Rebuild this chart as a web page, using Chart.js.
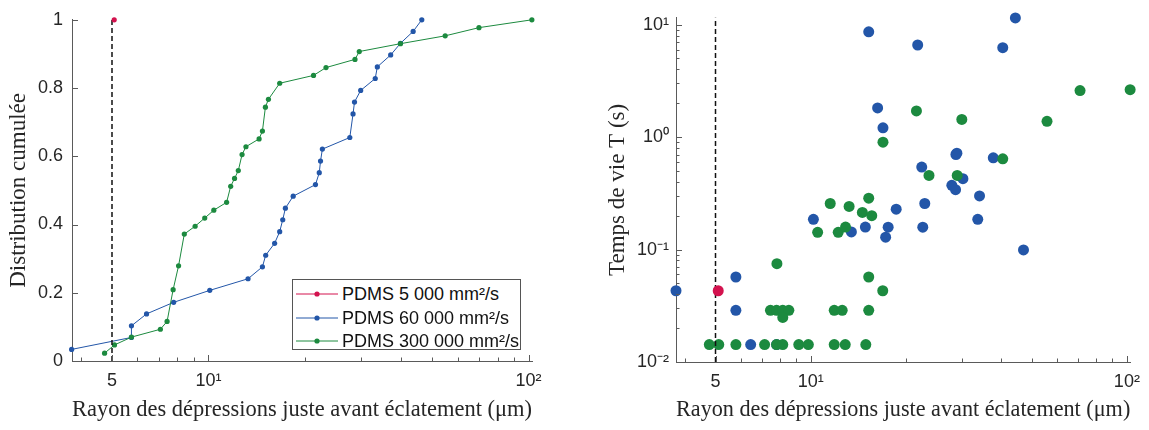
<!DOCTYPE html>
<html>
<head>
<meta charset="utf-8">
<script src="https://cdn.jsdelivr.net/npm/chart.js@4.4.1/dist/chart.umd.min.js"></script>
<style>
html,body{margin:0;padding:0;background:#fff;}
#wrap{position:relative;width:1149px;height:430px;overflow:hidden;}
#c1{position:absolute;left:0;top:0;}
#c2{position:absolute;left:575px;top:0;}
#legend{position:absolute;left:292px;top:279px;width:229px;height:71px;border:1px solid #555;background:#fff;box-sizing:border-box;font-family:'Liberation Sans',Arial,sans-serif;font-size:18px;color:#111;}
#legend .row{position:absolute;left:0;height:24px;display:flex;align-items:center;white-space:nowrap;}
#legend svg{display:block;margin-left:2px;margin-right:3px;}
</style>
</head>
<body>
<div id="wrap">
  <canvas id="c1" width="575" height="430"></canvas>
  <canvas id="c2" width="574" height="430"></canvas>
  <div id="legend"></div>
</div>
<script>
// ---------- series names & colours ----------
const seriesNames = ['PDMS 5 000 mm²/s', 'PDMS 60 000 mm²/s', 'PDMS 300 000 mm²/s'];
const seriesColors = ['#D3124E', '#2356A8', '#1C8A3F'];

// ---------- left panel : cumulative distribution of radii (µm) ----------
const cdfRadiusRed = [5.08];
const cdfRed = [1.0];

const cdfRadiusBlue = [3.74, 5.75, 5.75, 6.41, 7.79, 10.1, 13.3, 14.75, 15.1, 16.1, 16.7, 17.07, 17.4, 18.4,
  21.6, 22.2, 22.4, 22.7, 27.65, 28.3, 28.6, 29.9, 33.2, 33.7, 37.1, 39.8, 43.6, 46.4];
const cdfBlue = [0.034, 0.069, 0.103, 0.138, 0.172, 0.207, 0.241, 0.276, 0.310, 0.345, 0.379, 0.414, 0.448, 0.483,
  0.517, 0.552, 0.586, 0.621, 0.655, 0.724, 0.759, 0.793, 0.828, 0.862, 0.897, 0.931, 0.966, 1.0];

const cdfRadiusGreen = [4.74, 5.09, 5.75, 7.08, 7.43, 7.76, 8.07, 8.41, 9.09, 9.74, 10.4, 11.4, 11.74, 12.07, 12.4,
  12.74, 13.1, 14.4, 14.75, 15.07, 15.4, 16.7, 21.3, 23.3, 28.7, 29.6, 39.8, 54.9, 70.0, 102.4];
const cdfGreen = [0.023, 0.047, 0.070, 0.093, 0.116, 0.209, 0.279, 0.372, 0.395, 0.419, 0.442, 0.465, 0.512, 0.535, 0.558,
  0.605, 0.628, 0.651, 0.674, 0.744, 0.767, 0.814, 0.837, 0.860, 0.884, 0.907, 0.930, 0.953, 0.977, 1.0];

// ---------- right panel : lifetime T (s) vs radius (µm) ----------
const lifeRadiusRed = [5.1];
const lifeTimeRed = [0.043];

const lifeRadiusBlue = [3.75, 5.80, 5.80, 6.46, 7.8, 10.2, 13.45, 14.89, 15.26, 16.28, 16.93, 17.26, 17.58, 18.64,
  21.8, 22.45, 22.62, 22.95, 27.95, 28.72, 28.8, 29.0, 30.3, 33.76, 34.2, 37.8, 40.5, 44.4, 47.1];
const lifeTimeBlue = [0.043, 0.057, 0.0288, 0.0143, 0.0143, 0.1855, 0.1433, 0.1586, 8.64, 1.817, 1.21, 0.1287, 0.158, 0.2287,
  6.59, 0.5416, 0.158, 0.2567, 0.3724, 0.341, 0.70, 0.72, 0.4268, 0.1855, 0.300, 0.654, 6.24, 11.48, 0.0993];

const lifeRadiusGreen = [4.78, 5.12, 5.80, 7.15, 7.80, 8.16, 9.17, 9.83, 11.87, 12.86, 14.94,
  7.46, 7.80, 8.16, 8.53, 11.87, 12.58, 15.26,
  8.16, 7.82, 15.26, 16.9,
  11.53, 13.23, 15.26, 14.57, 15.6, 10.52, 12.22, 12.89,
  16.93, 21.6, 30.06, 55.9, 71.1, 102.4, 40.5, 23.67, 29.07];
const lifeTimeGreen = [0.0143, 0.0143, 0.0143, 0.0143, 0.0143, 0.0143, 0.0143, 0.0143, 0.0143, 0.0143, 0.0143,
  0.0288, 0.0288, 0.0288, 0.0288, 0.0288, 0.0288, 0.0288,
  0.0249, 0.0748, 0.057, 0.043,
  0.2567, 0.2415, 0.286, 0.2138, 0.200, 0.1424, 0.1424, 0.1586,
  0.90, 1.71, 1.436, 1.38, 2.59, 2.64, 0.641, 0.456, 0.456];

// ---------- reference line & axes ----------
const refRadius = 5;
const xMin = 3.75, xMax = 102.5;
const yLifeMin = 0.01, yLifeMax = 11.5;

const xTickValues = [4, 5, 6, 7, 8, 9, 10, 20, 30, 40, 50, 60, 70, 80, 90, 100];
const xLabelValues = [5, 10, 100];
const xLabelTexts = ['5', '10¹', '10²'];

const yCdfTicks = [0, 0.2, 0.4, 0.6, 0.8, 1];
const yCdfLabels = ['0', '0.2', '0.4', '0.6', '0.8', '1'];

const yLifeTickValues = [0.01, 0.02, 0.03, 0.04, 0.05, 0.06, 0.07, 0.08, 0.09,
  0.1, 0.2, 0.3, 0.4, 0.5, 0.6, 0.7, 0.8, 0.9, 1, 2, 3, 4, 5, 6, 7, 8, 9, 10];
const yLifeLabelValues = [0.01, 0.1, 1, 10];
const yLifeLabelTexts = ['10⁻²', '10⁻¹', '10⁰', '10¹'];

const xTitle = 'Rayon des dépressions juste avant éclatement (μm)';
const yTitleLeft = 'Distribution cumulée';
const yTitleRight = 'Temps de vie T (s)';

// ---------- helpers ----------
const zip = (xs, ys) => xs.map((x, i) => ({x: x, y: ys[i]}));
const tickFont = {family: "'Liberation Sans', Arial, Helvetica, sans-serif", size: 18};
const titleFont = {family: "'Liberation Serif', 'Times New Roman', serif", size: 23};
const axisColor = '#5a5a5a';
const textColor = '#262626';

function inwardTicksPlugin(xMajor, yMajor) {
  return {
    id: 'inwardTicks',
    afterDatasetsDraw(chart) {
      const ctx = chart.ctx, a = chart.chartArea;
      const xs = chart.scales.x, ys = chart.scales.y;
      ctx.save();
      ctx.strokeStyle = axisColor;
      ctx.lineWidth = 1;
      ctx.beginPath();
      xs.ticks.forEach(t => {
        const px = Math.round(xs.getPixelForValue(t.value)) + 0.5;
        const len = xMajor.includes(t.value) ? 6 : 3.5;
        ctx.moveTo(px, a.bottom);
        ctx.lineTo(px, a.bottom - len);
      });
      ys.ticks.forEach(t => {
        const py = Math.round(ys.getPixelForValue(t.value)) + 0.5;
        const len = yMajor.includes(t.value) ? 6 : 3.5;
        ctx.moveTo(a.left, py);
        ctx.lineTo(a.left + len, py);
      });
      ctx.stroke();
      ctx.restore();
    }
  };
}

function xAxis(height) {
  return {
    type: 'logarithmic', min: xMin, max: xMax,
    afterBuildTicks: s => { s.ticks = xTickValues.map(v => ({value: v})); },
    afterFit: s => { s.height = height; },
    ticks: {
      autoSkip: false, maxRotation: 0, minRotation: 0, padding: 9, color: textColor, font: tickFont,
      callback: v => { const i = xLabelValues.indexOf(v); return i >= 0 ? xLabelTexts[i] : ''; }
    },
    grid: {display: true, drawOnChartArea: false, drawTicks: false, color: axisColor},
    border: {display: true, color: axisColor, width: 1},
    title: {display: true, text: xTitle, color: textColor, font: titleFont, padding: {top: 0, bottom: 6}}
  };
}

Chart.defaults.animation = false;

// ---------- left chart ----------
new Chart(document.getElementById('c1'), {
  type: 'scatter',
  data: {
    datasets: [
      {label: seriesNames[0], data: zip(cdfRadiusRed, cdfRed), showLine: false,
       pointRadius: 2.6, pointBorderWidth: 0, backgroundColor: seriesColors[0], borderColor: seriesColors[0], clip: false},
      {label: 'ref', data: [{x: refRadius, y: 0}, {x: refRadius, y: 1}], showLine: true, pointRadius: 0,
       borderColor: '#111', borderWidth: 1.5, borderDash: [5, 3], clip: false},
      {label: seriesNames[2], data: zip(cdfRadiusGreen, cdfGreen), showLine: true,
       pointRadius: 2.6, pointBorderWidth: 0, backgroundColor: seriesColors[2], borderColor: seriesColors[2],
       borderWidth: 1, clip: false},
      {label: seriesNames[1], data: zip(cdfRadiusBlue, cdfBlue), showLine: true,
       pointRadius: 2.6, pointBorderWidth: 0, backgroundColor: seriesColors[1], borderColor: seriesColors[1],
       borderWidth: 1, clip: false}
    ]
  },
  options: {
    responsive: false, animation: false, events: [],
    layout: {padding: {left: 0, top: 15, right: 43, bottom: 0}},
    plugins: {legend: {display: false}, tooltip: {enabled: false}},
    scales: {
      x: xAxis(69),
      y: {
        type: 'linear', min: 0, max: 1,
        afterBuildTicks: s => { s.ticks = yCdfTicks.map(v => ({value: v})); },
        afterFit: s => { s.width = 72; },
        ticks: {padding: 9, color: textColor, font: tickFont,
          callback: v => { const i = yCdfTicks.indexOf(v); return i >= 0 ? yCdfLabels[i] : ''; }},
        grid: {display: true, drawOnChartArea: false, drawTicks: false, color: axisColor},
        border: {display: true, color: axisColor, width: 1},
        title: {display: true, text: yTitleLeft, color: textColor, font: titleFont, padding: {top: 5, bottom: 0}}
      }
    }
  },
  plugins: [inwardTicksPlugin(xLabelValues, yCdfTicks)]
});

// ---------- right chart ----------
new Chart(document.getElementById('c2'), {
  type: 'scatter',
  data: {
    datasets: [
      {label: seriesNames[0], data: zip(lifeRadiusRed, lifeTimeRed),
       pointRadius: 5.5, pointBorderWidth: 0, backgroundColor: seriesColors[0], borderColor: seriesColors[0], clip: false},
      {label: 'ref', data: [{x: refRadius, y: yLifeMin}, {x: refRadius, y: yLifeMax}], showLine: true, pointRadius: 0,
       borderColor: '#111', borderWidth: 1.5, borderDash: [5, 3], clip: false},
      {label: seriesNames[2], data: zip(lifeRadiusGreen, lifeTimeGreen),
       pointRadius: 5.5, pointBorderWidth: 0, backgroundColor: seriesColors[2], borderColor: seriesColors[2], clip: false},
      {label: seriesNames[1], data: zip(lifeRadiusBlue, lifeTimeBlue),
       pointRadius: 5.5, pointBorderWidth: 0, backgroundColor: seriesColors[1], borderColor: seriesColors[1], clip: false}
    ]
  },
  options: {
    responsive: false, animation: false, events: [],
    layout: {padding: {left: 0, top: 15, right: 16, bottom: 0}},
    plugins: {legend: {display: false}, tooltip: {enabled: false}},
    scales: {
      x: xAxis(68),
      y: {
        type: 'logarithmic', min: yLifeMin, max: yLifeMax,
        afterBuildTicks: s => { s.ticks = yLifeTickValues.map(v => ({value: v})); },
        afterFit: s => { s.width = 101; },
        ticks: {autoSkip: false, padding: 7, color: textColor, font: tickFont,
          callback: v => { const i = yLifeLabelValues.indexOf(v); return i >= 0 ? yLifeLabelTexts[i] : ''; }},
        grid: {display: true, drawOnChartArea: false, drawTicks: false, color: axisColor},
        border: {display: true, color: axisColor, width: 1},
        title: {display: true, text: yTitleRight, color: textColor, font: titleFont, padding: {top: 29, bottom: 0}}
      }
    }
  },
  plugins: [inwardTicksPlugin(xLabelValues, yLifeLabelValues)]
});

// ---------- legend (left panel) ----------
const legend = document.getElementById('legend');
const rowTops = [2, 26, 49];
[0, 1, 2].forEach(i => {
  const row = document.createElement('div');
  row.className = 'row';
  row.style.top = rowTops[i] + 'px';
  row.innerHTML = '<svg width="44" height="12"><line x1="1" y1="6" x2="43" y2="6" stroke="' + seriesColors[i] +
    '" stroke-width="1"/><circle cx="22" cy="6" r="2.6" fill="' + seriesColors[i] + '"/></svg>';
  const span = document.createElement('span');
  span.textContent = seriesNames[i];
  row.appendChild(span);
  legend.appendChild(row);
});
</script>
</body>
</html>
